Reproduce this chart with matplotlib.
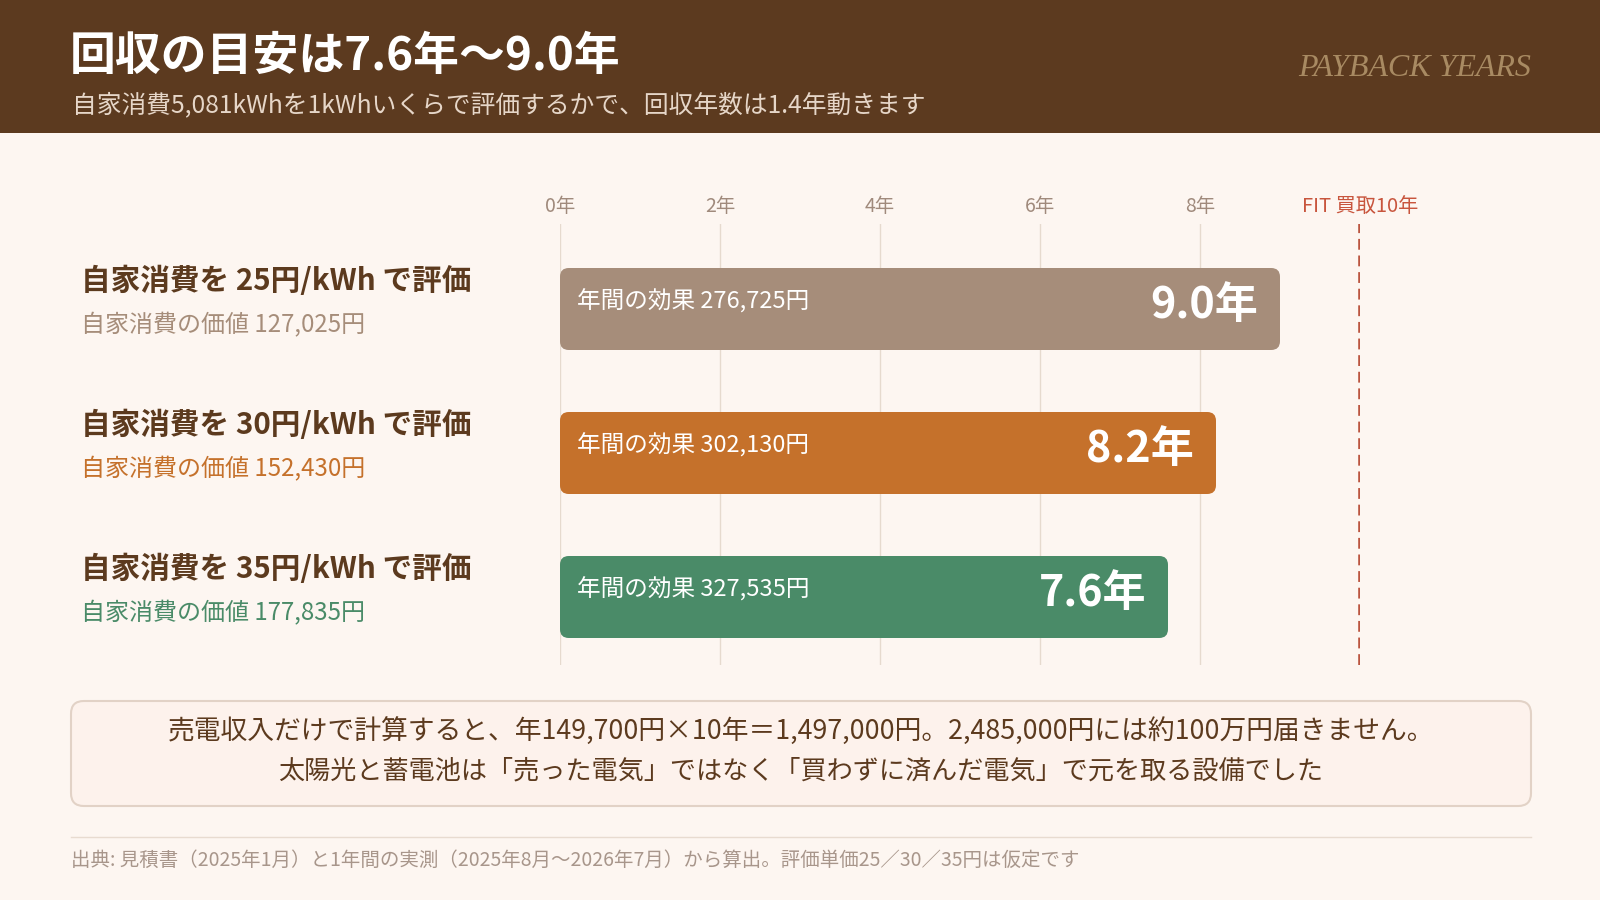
import matplotlib
matplotlib.use("Agg")
import matplotlib.pyplot as plt
from matplotlib.patches import FancyBboxPatch, Rectangle
from matplotlib.lines import Line2D

plt.rcParams['font.family'] = ['Noto Sans CJK JP', 'DejaVu Sans']

# data
rates = [25, 30, 35]
self_value = [127025, 152430, 177835]
annual_effect = [276725, 302130, 327535]
payback_years = [9.0, 8.2, 7.6]
fit_years = 10
tick_years = [0, 2, 4, 6, 8]

bar_colors = ['#a68d7a', '#c5712b', '#4a8b68']
label_colors = ['#a68d7a', '#c5712b', '#4a8b68']

BG = '#fdf6f1'
BROWN = '#5c3a1e'
W, H = 1600, 900


def fx(x):
    return x / W


def fy(y):
    return 1 - y / H


fig = plt.figure(figsize=(16, 9), dpi=100, facecolor=BG)

# header
fig.patches.append(Rectangle((0, fy(133)), 1, 133 / H, transform=fig.transFigure,
                             facecolor='#5c3a1f', edgecolor='none'))
fig.text(fx(70), fy(57), '回収の目安は7.6年〜9.0年', color='white', fontsize=33,
         fontweight='bold', va='center', ha='left')
fig.text(fx(72), fy(105), '自家消費5,081kWhを1kWhいくらで評価するかで、回収年数は1.4年動きます',
         color='#e6d6c8', fontsize=17.8, va='center', ha='left')
fig.text(fx(1531), fy(69), 'PAYBACK YEARS', color='#a88a62', fontsize=23,
         family='Liberation Serif', style='italic', va='center', ha='right')

# chart axes: x 560..1360 px -> 0..10 years, rows spaced 144 px
row_px = 144
top_px, bot_px = 224, 665
first_row = 309
ax = fig.add_axes([fx(560), fy(bot_px), (1360 - 560) / W, (bot_px - top_px) / H])
ax.set_xlim(0, 10)
ax.set_ylim(2 + (bot_px - 597) / row_px, -(first_row - top_px) / row_px)
ax.set_facecolor('none')
for s in ax.spines.values():
    s.set_visible(False)
ax.set_xticks([])
ax.set_yticks([])

for t in tick_years:
    ax.axvline(t, color='#e6dace', lw=1, zorder=0)
    ax.text(t, -(first_row - 206) / row_px, f'{t}年', color='#a08a7c', fontsize=14,
            ha='center', va='center')
ax.axvline(fit_years, color='#bb5540', lw=2.6, ls=(0, (3, 1.6)), zorder=1)
ax.text(fit_years, -(first_row - 206) / row_px, 'FIT 買取10年', color='#c8553d',
        fontsize=14.5, ha='center', va='center')

bar_h = 82 / row_px
px_per_year = 80
for i, (yrs, eff, col) in enumerate(zip(payback_years, annual_effect, bar_colors)):
    box = FancyBboxPatch((0, i - bar_h / 2), yrs, bar_h,
                         boxstyle='round,pad=0,rounding_size=0.11',
                         mutation_aspect=px_per_year / row_px,
                         facecolor=col, edgecolor='none', zorder=2)
    ax.add_patch(box)
    ax.text(17 / px_per_year, i - 8 / row_px, f'年間の効果 {eff:,}円', color='white',
            fontsize=17, ha='left', va='center', zorder=3)
    ax.text(yrs - 22 / px_per_year, i - 4 / row_px, f'{yrs:.1f}年', color='white',
            fontsize=31, fontweight='bold', ha='right', va='center', zorder=3)

# row labels
for i, (r, v, c) in enumerate(zip(rates, self_value, label_colors)):
    yc = first_row + i * row_px
    fig.text(fx(81), fy(yc - 28), f'自家消費を {r}円/kWh で評価', color=BROWN,
             fontsize=21.3, fontweight='bold', ha='left', va='center')
    fig.text(fx(81), fy(yc + 16), f'自家消費の価値 {v:,}円', color=c,
             fontsize=17.3, ha='left', va='center')

# note box
fig.patches.append(FancyBboxPatch((fx(71), fy(806)), fx(1531 - 71), (806 - 701) / H,
                                  boxstyle='round,pad=0,rounding_size=0.008',
                                  mutation_aspect=W / H, transform=fig.transFigure,
                                  facecolor='#fdf2ec', edgecolor='#e2d2c6', lw=1.5))
fig.text(fx(801), fy(732),
         '売電収入だけで計算すると、年149,700円×10年＝1,497,000円。2,485,000円には約100万円届きません。',
         color=BROWN, fontsize=19.3, ha='center', va='center')
fig.text(fx(801), fy(771),
         '太陽光と蓄電池は「売った電気」ではなく「買わずに済んだ電気」で元を取る設備でした',
         color=BROWN, fontsize=18.8, ha='center', va='center')

# footer
fig.lines.append(Line2D([fx(71), fx(1531)], [fy(837), fy(837)], transform=fig.transFigure,
                        color='#e8dbd0', lw=1))
fig.text(fx(71), fy(860),
         '出典: 見積書（2025年1月）と1年間の実測（2025年8月〜2026年7月）から算出。評価単価25／30／35円は仮定です',
         color='#a8968b', fontsize=14, ha='left', va='center')

fig.savefig('out.png', dpi=100, facecolor=BG)
